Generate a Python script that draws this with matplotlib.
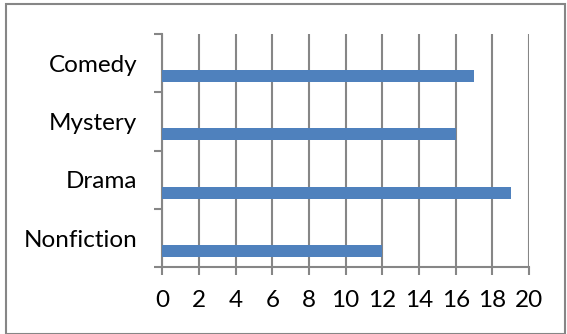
import matplotlib.pyplot as plt
from matplotlib.patches import Rectangle

genres = ["Nonfiction", "Drama", "Mystery", "Comedy"]
counts = [12, 19, 16, 17]
x_ticks = [0, 2, 4, 6, 8, 10, 12, 14, 16, 18, 20]

bar_color = "#4F81BD"
line_color = "#868686"

plt.rcParams["font.family"] = ["Lato", "DejaVu Sans"]

fig = plt.figure(figsize=(5.67, 3.34), dpi=100)
ax = fig.add_axes([0.2862, 0.1997, 0.6468, 0.6985])

# Excel-style clustered bars: the single series sits below each category centre
pos = [i - 0.22 for i in range(len(genres))]
ax.barh(pos, counts, height=0.21, color=bar_color, zorder=3)

ax.set_xlim(0, 20)
ax.set_ylim(-0.5, len(genres) - 0.5)
ax.set_xticks(x_ticks)
ax.set_xticklabels([str(t) for t in x_ticks])
ax.set_yticks(range(len(genres)))
ax.set_yticklabels(genres)
ax.set_yticks([i - 0.5 for i in range(len(genres) + 1)], minor=True)

ax.xaxis.grid(True, color=line_color, linewidth=1.5, zorder=0)
ax.tick_params(axis="x", length=6, width=1.5, color=line_color,
               labelsize=17.5, pad=10)
ax.tick_params(axis="y", which="major", length=0, labelsize=17.5, pad=18)
ax.tick_params(axis="y", which="minor", length=6, width=1.5, color=line_color)

for side in ["top", "right"]:
    ax.spines[side].set_visible(False)
for side in ["left", "bottom"]:
    ax.spines[side].set_color(line_color)
    ax.spines[side].set_linewidth(1.5)

# outer chart border
fig.patches.append(Rectangle((5.5 / 567, 0.5 / 334), 559.5 / 567, 329.5 / 334,
                             transform=fig.transFigure, fill=False,
                             edgecolor=line_color, linewidth=1.5))

fig.savefig("out.png", dpi=100)
